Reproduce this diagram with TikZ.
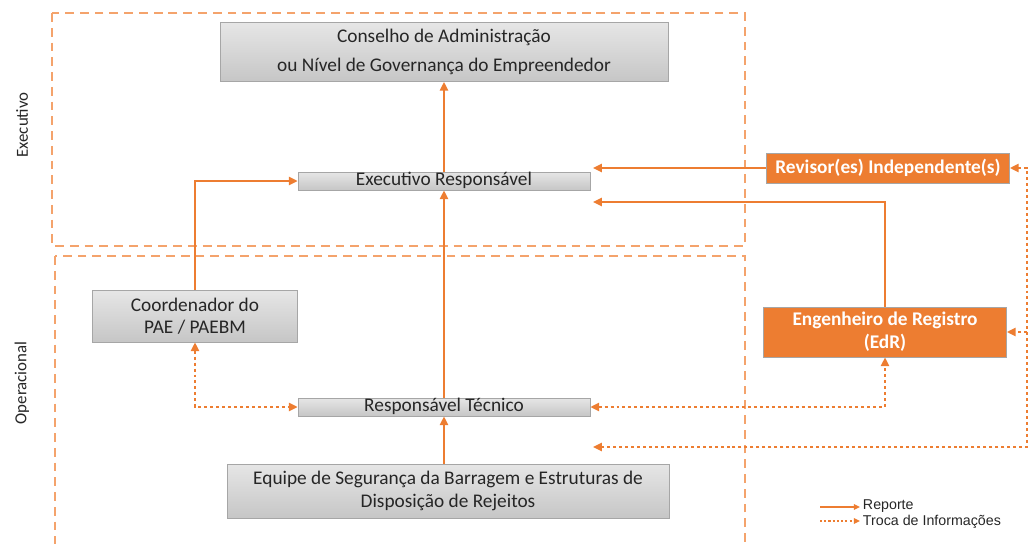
\documentclass[tikz,border=0pt]{standalone}
\usepackage{fontspec}
\setmainfont{Carlito}
\newfontfamily\legendfont{Liberation Sans}
\usetikzlibrary{arrows.meta,positioning}
\definecolor{edrorange}{HTML}{ED7D31}
\definecolor{framecol}{HTML}{F4A36C}
\definecolor{boxline}{HTML}{A6A6A6}
\definecolor{boxtop}{HTML}{E6E6E6}
\definecolor{boxbot}{HTML}{C6C6C6}
\definecolor{txtgray}{HTML}{262626}
\tikzset
{
    govbox/.style     = {rectangle, draw=boxline, top color=boxtop, bottom color=boxbot, align=center, text=txtgray, inner sep=0pt, font=\fontsize{11}{12.8}\selectfont},
    barbox/.style     = {govbox, minimum width=5.84cm, minimum height=0.36cm, text height=7pt, text depth=2pt},
    orangebox/.style  = {rectangle, draw=boxline, fill=edrorange, text=white, align=center, inner sep=0pt, minimum width=4.86cm, font=\bfseries\fontsize{11}{13.2}\selectfont},
    sidelabel/.style  = {rotate=90, text=txtgray, font=\fontsize{9.6}{11}\selectfont},
    legendtext/.style = {anchor=west, inner sep=1.5pt, text=txtgray, font=\legendfont\fontsize{8.1}{9}\selectfont},
    levelframe/.style = {draw=framecol, line width=1.1pt, dash pattern=on 5pt off 3.4pt},
    reporte/.style    = {draw=edrorange, line width=1.2pt, ->},
    troca/.style      = {draw=edrorange, line width=1.2pt, dash pattern=on 1.7pt off 1.7pt}
}

\begin{document}
\begin{tikzpicture}[x=0.02cm, y=-0.02cm, >={Triangle[length=5pt,width=4.6pt]}]
\useasboundingbox (0,0) rectangle (1031,544);
\draw [levelframe] (52,13) rectangle (745,246);
\draw [levelframe] (55,256) rectangle (745,600);
\node [sidelabel] at (22,125) (exectag) {Executivo};
\node [sidelabel] at (22,383) (opertag) {Operacional};
\node [govbox, minimum width=8.96cm, minimum height=1.18cm, font=\fontsize{11}{16.5}\selectfont] at (444,52) (conselho) {Conselho de Administração\\ou Nível de Governança do Empreendedor};
\node [barbox] at (444,181) (execresp) {Executivo Responsável};
\node [orangebox, minimum height=0.6cm] at (888,168) (revisor) {Revisor(es) Independente(s)};
\node [govbox, minimum width=4.1cm, minimum height=1.04cm] at (195,316) (coord) {Coordenador do\\PAE / PAEBM};
\node [orangebox, minimum height=1.0cm] at (885,332) (edr) {Engenheiro de Registro\\(EdR)};
\node [barbox] at (444,407) (resptec) {Responsável Técnico};
\node [govbox, minimum width=8.84cm, minimum height=1.08cm] at (448,491) (equipe) {Equipe de Segurança da Barragem e Estruturas de\\Disposição de Rejeitos};
\coordinate (revend) at (593,168);
\coordinate (edrend) at (593,202);
\coordinate (railbot) at (1027,447);
\coordinate (trocaend) at (593,447);
% reporte
\draw [reporte] (execresp.north) -- (conselho.south);
\draw [reporte] (resptec.north) -- (execresp.south);
\draw [reporte] (resptec.south |- equipe.north) -- (resptec.south);
\draw [reporte] (coord.north) |- (execresp.west);
\draw [reporte] (revisor.west) -- (revend);
\draw [reporte] (edr.north) |- (edrend);
% troca de informacoes
\draw [troca, <->] (coord.south) |- (resptec.west);
\draw [troca, <->] (resptec.east) -| (edr.south);
\draw [troca, <->] (revisor.east) -| (railbot) -- (trocaend);
\draw [troca, ->] (edr.east -| railbot) -- (edr.east);
% legenda
\node [legendtext] at (860,506) (reptxt) {Reporte};
\node [legendtext] at (860,522) (trocatxt) {Troca de Informações};
\coordinate (legrep) at (820,507);
\coordinate (legtroca) at (820,521);
\draw [reporte, line width=0.9pt, >={Triangle[length=3.5pt,width=3.2pt]}] (legrep) -- (legrep -| reptxt.west);
\draw [troca, line width=0.9pt, dash pattern=on 1.2pt off 1.2pt, ->, >={Triangle[length=3.5pt,width=3.2pt]}] (legtroca) -- (legtroca -| trocatxt.west);
\end{tikzpicture}
\end{document}
